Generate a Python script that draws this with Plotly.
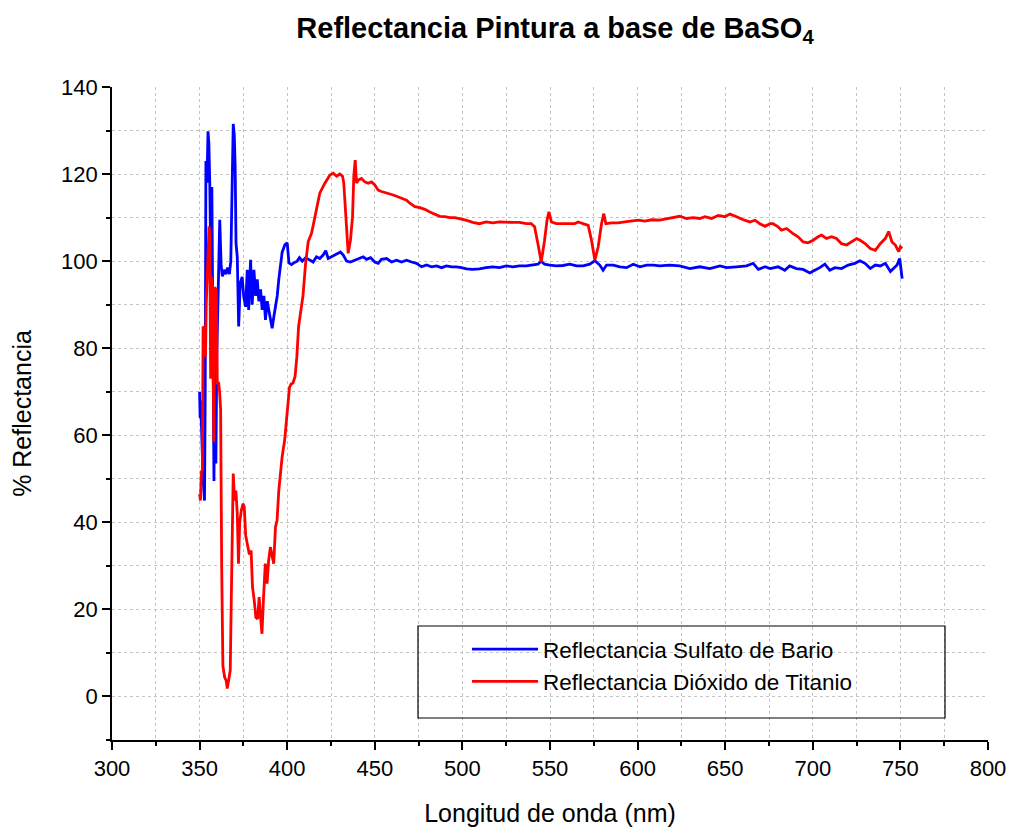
import plotly.graph_objects as go

# ---------------- data ----------------
wl_bario = [
    350.0, 350.3, 350.6, 351.2, 352.0, 352.8, 353.2, 353.6, 354.2, 354.8,
    355.3, 355.8, 356.4, 357.0, 357.5, 358.2, 358.8, 359.3, 359.8, 360.6,
    361.5, 362.3, 363.0, 364.0, 365.0, 366.0, 367.0, 367.8, 368.5, 369.2,
    369.8, 370.3, 370.8, 371.5, 372.3, 373.2, 374.3, 375.2, 376.3, 377.2,
    378.0, 379.1, 380.0, 381.0, 382.0, 382.9, 383.8, 384.8, 385.7, 386.7,
    387.6, 388.6, 389.5, 390.5, 391.4, 392.4, 393.3, 394.3, 395.2, 396.2,
    397.1, 398.7, 400.0, 401.0, 402.5, 403.8, 405.7, 407.0, 408.6, 410.5,
    412.4, 414.8, 416.7, 418.6, 420.5, 422.0, 423.4, 425.3, 427.2, 429.1,
    430.4, 432.0, 433.9, 436.1, 438.6, 441.5, 443.4, 445.3, 447.6, 450.0,
    451.9, 453.8, 456.7, 459.6, 462.4, 465.3, 468.1, 471.0, 473.8, 476.7,
    479.5, 482.4, 485.2, 488.1, 490.9, 493.8, 496.6, 499.5, 502.4, 505.9,
    509.7, 513.5, 517.4, 521.2, 525.0, 528.8, 532.6, 536.5, 540.3, 543.1,
    545.0, 546.9, 549.8, 553.6, 557.4, 561.3, 565.1, 568.9, 572.7, 575.6,
    578.4, 580.3, 582.3, 586.1, 589.9, 593.7, 597.5, 601.3, 605.2, 609.0,
    612.6, 618.3, 624.0, 629.8, 635.5, 641.2, 647.0, 650.8, 656.5, 662.2,
    666.0, 668.9, 672.7, 675.6, 680.2, 684.0, 686.8, 690.6, 694.5, 698.3,
    701.1, 704.0, 706.9, 709.7, 712.6, 716.4, 720.2, 724.0, 726.9, 729.8,
    732.8, 735.7, 738.5, 741.4, 744.3, 746.2, 748.1, 749.6, 750.4, 751.0,
]
r_bario = [
    70.0, 64.0, 68.0, 60.0, 50.0, 45.0, 70.0, 123.0, 118.0, 129.8,
    127.0, 118.0, 100.0, 117.0, 80.0, 49.5, 84.0, 53.5, 78.0, 95.0,
    109.5, 99.0, 96.5, 98.0, 97.0, 98.5, 97.0, 100.0, 115.0, 131.5,
    129.0, 121.5, 104.0, 101.0, 85.0, 95.0, 96.4, 91.8, 89.5, 98.0,
    88.8, 100.3, 90.0, 98.0, 92.0, 95.8, 90.8, 93.5, 88.8, 92.0,
    86.5, 90.8, 88.8, 86.5, 84.6, 87.3, 89.6, 92.0, 95.8, 98.8,
    102.0, 103.8, 104.2, 99.6, 99.2, 99.6, 100.0, 100.8, 100.0, 100.8,
    100.3, 99.8, 101.0, 100.6, 101.4, 102.4, 100.6, 101.0, 101.4, 101.8,
    102.1, 101.4, 100.0, 99.8, 100.2, 100.8, 101.0, 100.4, 100.8, 99.8,
    99.5, 100.4, 100.6, 99.8, 100.2, 99.8, 100.2, 99.8, 99.5, 98.7,
    99.1, 98.7, 98.9, 98.5, 98.9, 98.7, 98.7, 98.5, 98.2, 98.1,
    98.2, 98.5, 98.7, 98.5, 98.9, 98.7, 98.9, 98.9, 99.1, 99.3,
    100.0, 99.3, 99.1, 98.9, 99.0, 99.3, 98.9, 98.9, 99.3, 100.1,
    99.1, 97.9, 99.1, 99.1, 98.7, 98.5, 99.3, 98.7, 99.1, 99.1,
    98.9, 99.1, 98.9, 98.3, 98.7, 98.3, 98.9, 98.5, 98.7, 98.9,
    99.5, 98.1, 98.7, 98.3, 98.7, 97.9, 98.9, 98.3, 98.1, 97.3,
    97.9, 98.5, 99.3, 97.9, 98.5, 98.3, 99.1, 99.5, 100.1, 99.5,
    98.3, 99.1, 98.9, 99.5, 97.6, 98.3, 99.1, 100.6, 97.9, 96.0,
]

wl_titanio = [
    350.0, 350.5, 351.0, 351.6, 352.0, 352.5, 352.9, 353.4, 353.8, 354.8,
    355.4, 355.8, 356.3, 356.7, 357.3, 357.6, 358.1, 358.6, 359.5, 360.1,
    360.9, 361.4, 362.0, 362.6, 363.3, 364.3, 365.2, 365.8, 366.8, 367.5,
    368.0, 368.5, 369.2, 370.0, 370.7, 371.5, 372.2, 372.9, 373.8, 374.8,
    375.5, 376.3, 377.4, 378.4, 379.4, 380.2, 381.2, 382.1, 383.1, 384.0,
    384.8, 385.6, 386.5, 387.5, 388.5, 389.4, 390.4, 391.3, 392.3, 393.3,
    394.2, 395.2, 396.2, 397.1, 398.0, 398.5, 399.4, 400.4, 401.3, 402.3,
    403.3, 404.5, 405.5, 406.5, 408.0, 409.0, 410.5, 412.0, 413.9, 416.7,
    418.6, 421.5, 424.4, 426.3, 428.2, 430.0, 431.6, 432.3, 433.3, 434.8,
    436.1, 437.3, 438.0, 438.8, 439.6, 440.5, 442.4, 444.3, 446.2, 448.1,
    450.0, 451.9, 453.8, 456.7, 459.6, 462.4, 465.3, 468.1, 470.0, 472.9,
    475.7, 478.6, 481.4, 484.3, 487.1, 490.0, 492.8, 495.7, 498.6, 502.0,
    505.9, 509.7, 513.5, 517.4, 521.2, 525.0, 528.8, 532.6, 536.5, 539.3,
    541.2, 543.1, 545.0, 546.9, 548.3, 549.4, 550.8, 553.6, 557.4, 561.3,
    564.1, 566.0, 568.9, 571.8, 573.7, 575.6, 577.5, 579.4, 580.7, 581.9,
    585.1, 588.9, 592.7, 596.6, 600.4, 604.2, 608.0, 612.6, 618.3, 624.0,
    627.9, 631.7, 635.5, 638.4, 642.2, 646.0, 649.8, 652.7, 656.5, 660.3,
    664.1, 667.0, 669.8, 672.7, 675.6, 677.3, 680.2, 682.1, 685.0, 688.7,
    691.6, 694.5, 697.3, 700.2, 703.0, 705.0, 707.8, 710.7, 713.5, 716.4,
    719.3, 722.1, 725.0, 727.0, 730.0, 732.8, 735.7, 738.5, 741.4, 743.3,
    745.2, 747.1, 749.0, 750.0, 751.0,
]
r_titanio = [
    46.5, 45.0, 51.6, 52.0, 85.0, 84.6, 78.0, 78.5, 90.3, 100.3,
    108.0, 106.0, 73.0, 96.4, 94.0, 85.7, 58.5, 94.0, 93.4, 72.0,
    72.0, 70.0, 66.0, 30.0, 7.0, 4.4, 3.6, 1.8, 4.4, 6.0,
    20.0, 33.0, 51.2, 45.0, 47.3, 42.0, 30.5, 40.0, 42.7, 44.3,
    43.5, 37.0, 35.0, 32.6, 33.5, 25.1, 22.0, 18.2, 17.8, 22.8,
    18.2, 14.4, 22.8, 30.5, 25.9, 31.2, 34.3, 32.0, 30.5, 38.9,
    40.4, 47.3, 51.9, 55.0, 57.5, 58.6, 62.6, 67.0, 71.0, 71.8,
    72.0, 73.5, 78.0, 85.0, 89.0, 92.0, 99.5, 104.5, 106.4, 112.0,
    115.6, 117.9, 119.8, 120.2, 119.5, 120.0, 119.5, 117.9, 110.2, 101.8,
    104.8, 110.2, 119.4, 123.2, 117.9, 118.6, 119.0, 118.2, 117.9, 118.2,
    117.5, 116.3, 116.0, 115.7, 115.3, 114.9, 114.4, 114.0, 113.3, 112.5,
    112.3, 111.9, 111.3, 110.8, 110.3, 110.2, 110.0, 110.0, 109.8, 109.4,
    108.9, 108.6, 109.0, 108.8, 109.0, 108.9, 108.9, 108.9, 108.6, 108.6,
    107.9, 104.0, 99.8, 104.8, 109.4, 111.3, 109.0, 108.6, 108.6, 108.6,
    108.6, 109.0, 108.6, 108.2, 104.8, 100.2, 103.3, 108.6, 110.9, 108.6,
    108.8, 108.8, 109.0, 109.2, 109.4, 109.2, 109.5, 109.4, 109.8, 110.3,
    109.8, 110.0, 109.8, 110.2, 109.8, 110.5, 110.2, 110.8, 110.2, 109.5,
    109.0, 109.4, 108.6, 108.0, 108.6, 108.6, 107.9, 107.1, 107.5, 106.3,
    105.6, 104.4, 104.2, 104.8, 105.6, 106.0, 105.2, 105.6, 105.2, 104.0,
    103.7, 104.4, 105.2, 104.8, 104.0, 102.9, 102.5, 104.0, 105.2, 106.8,
    104.4, 103.7, 102.2, 103.3, 102.9,
]

series_names = ["Reflectancia Sulfato de Bario", "Reflectancia Dióxido de Titanio"]
series_colors = ["#0000FF", "#FF0000"]

assert len(wl_bario) == len(r_bario)
assert len(wl_titanio) == len(r_titanio)

FONT = "Liberation Sans, Arial, sans-serif"

fig = go.Figure()
fig.add_trace(go.Scatter(x=wl_bario, y=r_bario, mode="lines", name=series_names[0],
                         line=dict(color=series_colors[0], width=2.8)))
fig.add_trace(go.Scatter(x=wl_titanio, y=r_titanio, mode="lines", name=series_names[1],
                         line=dict(color=series_colors[1], width=2.8)))

GRID = "#c4c4c4"

fig.update_layout(
    width=1012, height=830,
    margin=dict(l=112, r=24, t=87, b=90),
    paper_bgcolor="white", plot_bgcolor="white",
    font=dict(family=FONT, color="black", size=22),
    title=dict(text="<b>Reflectancia Pintura a base de BaSO<sub>4</sub></b>",
               x=555 / 1012, xref="container", xanchor="center",
               y=1 - 28 / 830, yref="container", yanchor="middle",
               font=dict(family=FONT, size=29, color="black")),
    showlegend=True,
    legend=dict(x=(467 - 112) / 876, y=(740 - 628) / 653, xanchor="left", yanchor="top",
                bgcolor="rgba(0,0,0,0)", borderwidth=0,
                font=dict(family=FONT, size=22.5, color="black"),
                itemwidth=66, tracegroupgap=0),
    shapes=[dict(type="rect", xref="paper", yref="paper",
                 x0=(418 - 112) / 876, x1=(945 - 112) / 876,
                 y0=(740 - 718) / 653, y1=(740 - 626) / 653,
                 line=dict(color="black", width=1.2), fillcolor="rgba(0,0,0,0)")],
)

fig.update_xaxes(
    range=[300, 800], tick0=300, dtick=50, automargin=False,
    ticks="outside", ticklen=8, tickwidth=1.5, tickcolor="black",
    showline=True, linecolor="black", linewidth=1.8, mirror=False,
    zeroline=False,
    tickfont=dict(family=FONT, size=22, color="black"),
    title=dict(text="Longitud de onda (nm)", font=dict(family=FONT, size=25, color="black"),
               standoff=24),
    showgrid=True, gridcolor=GRID, griddash="dot", gridwidth=1,
    minor=dict(dtick=25, ticks="outside", ticklen=4, tickwidth=1.5, tickcolor="black",
               showgrid=True, gridcolor=GRID, griddash="dot", gridwidth=1),
)
fig.update_yaxes(
    range=[-10, 140], tick0=0, dtick=20, automargin=False,
    ticks="outside", ticklen=8, tickwidth=1.5, tickcolor="black",
    showline=True, linecolor="black", linewidth=1.8, mirror=False,
    zeroline=False,
    tickfont=dict(family=FONT, size=22, color="black"),
    title=dict(text="% Reflectancia", font=dict(family=FONT, size=25, color="black"),
               standoff=22),
    showgrid=True, gridcolor=GRID, griddash="dot", gridwidth=1,
    minor=dict(dtick=10, ticks="outside", ticklen=4, tickwidth=1.5, tickcolor="black",
               showgrid=True, gridcolor=GRID, griddash="dot", gridwidth=1),
)

fig.write_html("out.html")
